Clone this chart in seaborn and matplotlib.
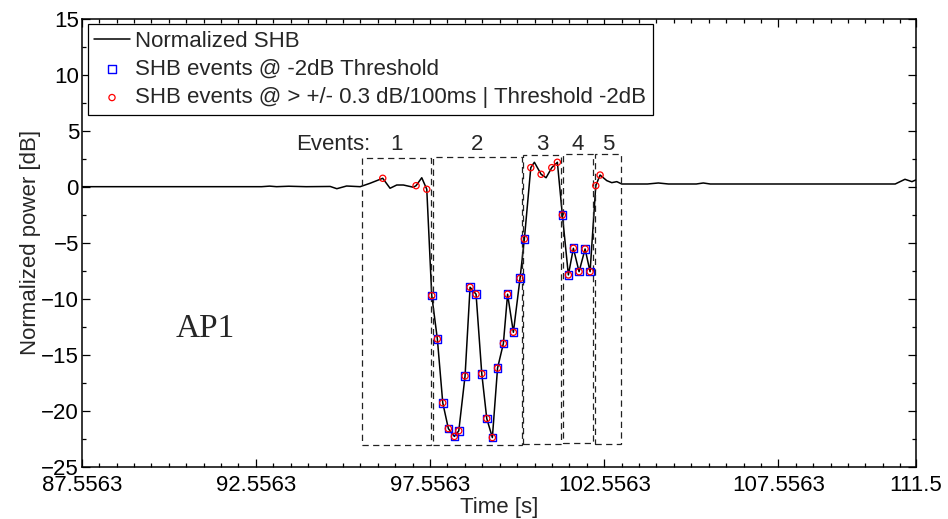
import numpy as np
import pandas as pd
import matplotlib
matplotlib.use("Agg")
import matplotlib.pyplot as plt
from matplotlib.patches import Rectangle
from matplotlib.ticker import FixedLocator, MultipleLocator
import seaborn as sns

# ---------------- data ----------------
time_s = [87.5563, 92.72, 92.95, 93.15, 93.5, 94.0, 94.69, 94.88, 95.16, 95.55,
          95.83, 96.198, 96.408, 96.600, 96.790, 97.077, 97.155, 97.318, 97.462,
          97.605, 97.766, 97.921, 98.082, 98.254, 98.381, 98.561, 98.705, 98.877,
          99.041, 99.184, 99.345, 99.494, 99.661, 99.782, 99.948, 100.140, 100.264,
          100.448, 100.551, 100.744, 100.887, 101.051, 101.211, 101.355, 101.527,
          101.671, 101.834, 102.007, 102.150, 102.314, 102.437, 102.630, 102.773,
          102.917, 103.060, 103.8, 104.11, 104.4, 105.2, 105.40, 105.6, 110.91,
          111.19, 111.39, 111.5]
power_db = [0.0, 0.0, 0.05, 0.0, 0.04, 0.0, 0.02, -0.18, 0.06, 0.0,
            0.3, 0.75, -0.14, 0.15, 0.15, -0.05, 0.09, 0.8, -0.23,
            -9.73, -13.6, -19.3, -21.6, -22.3, -21.8, -16.9, -8.98, -9.6,
            -16.7, -20.7, -22.4, -16.2, -14.0, -9.6, -13.0, -8.18, -4.67,
            1.70, 2.18, 1.11, 0.80, 1.70, 2.18, -2.53, -7.88,
            -5.5, -7.59, -5.56, -7.59, 0.09, 1.04, 0.54, 0.36,
            0.45, 0.24, 0.24, 0.33, 0.24, 0.24, 0.33, 0.24, 0.24,
            0.66, 0.45, 0.6]

# indices of samples flagged by each detector
threshold_idx = list(range(19, 37)) + list(range(43, 49))
rate_idx = [11, 16, 18] + list(range(19, 38)) + [39, 41, 42] + list(range(43, 51))

# event windows (dashed boxes)
event_labels = ["1", "2", "3", "4", "5"]
event_start = [95.612, 97.634, 100.235, 101.384, 102.302]
event_end = [97.585, 100.190, 101.309, 102.227, 103.032]
event_bottom = [-23.05, -23.05, -23.0, -22.9, -22.95]
event_top = [2.6, 2.68, 2.83, 2.89, 2.89]

xtick_vals = [87.5563, 92.5563, 97.5563, 102.5563, 107.5563, 111.5]
xtick_labels = ["87.5563", "92.5563", "97.5563", "102.5563", "107.5563", "111.5"]
ytick_vals = [15, 10, 5, 0, -5, -10, -15, -20, -25]

# ---------------- frames ----------------
df = pd.DataFrame({"t": time_s, "p": power_db})
df_thr = df.iloc[threshold_idx]
df_rate = df.iloc[rate_idx]

sns.set_style("ticks")
plt.rcParams["font.family"] = ["Liberation Sans", "DejaVu Sans"]
plt.rcParams["font.size"] = 16

fig = plt.figure(figsize=(9.48, 5.19), dpi=100)
ax = fig.add_axes([0.0862, 0.1008, 0.966 - 0.0862, 0.964 - 0.1008])

sns.lineplot(data=df, x="t", y="p", ax=ax, color="black", linewidth=1.1,
             estimator=None, sort=False, label="Normalized SHB")
sns.scatterplot(data=df_thr, x="t", y="p", ax=ax, marker="s", s=30,
                facecolor="none", edgecolor="#0000ff", linewidth=1.0,
                label="SHB events @ -2dB Threshold", zorder=3)
sns.scatterplot(data=df_rate, x="t", y="p", ax=ax, marker="o", s=20,
                facecolor="none", edgecolor="#ff0000", linewidth=0.9,
                label="SHB events @ > +/- 0.3 dB/100ms | Threshold -2dB", zorder=4)

# event boxes and labels
for lab, s, e, b, t in zip(event_labels, event_start, event_end, event_bottom, event_top):
    ax.add_patch(Rectangle((s, b), e - s, t - b, fill=False, edgecolor="#222222",
                           linestyle=(0, (5, 3.5)), linewidth=0.9, zorder=2))
    ax.text((s + e) / 2, 3.75, lab, ha="center", va="center", fontsize=16)
ax.text(event_start[0] + 0.22, 3.75, "Events:", ha="right", va="center", fontsize=16)

ax.text(90.264, -13.39, "AP1", family=["Liberation Serif", "DejaVu Serif"],
        fontsize=24, ha="left", va="baseline")

# axes
ax.set_xlim(87.5563, 111.5)
ax.set_ylim(-25, 15)
ax.xaxis.set_major_locator(FixedLocator(xtick_vals))
ax.set_xticklabels(xtick_labels)
ax.xaxis.set_minor_locator(FixedLocator(np.arange(87.5563, 111.5, 0.5)))
ax.yaxis.set_major_locator(FixedLocator(ytick_vals))
ax.yaxis.set_minor_locator(MultipleLocator(2.5))
ax.tick_params(which="both", direction="in", top=True, right=True, width=0.9,
               colors="black", labelsize=16)
ax.tick_params(which="major", length=5.5)
ax.tick_params(which="minor", length=2.8)
ax.tick_params(axis="x", pad=6)
ax.tick_params(axis="y", pad=2)
for sp in ax.spines.values():
    sp.set_visible(True)
    sp.set_linewidth(1.1)
    sp.set_color("black")

ax.set_xlabel("Time [s]", fontsize=16, labelpad=1)
ax.set_ylabel("Normalized power [dB]", fontsize=16, labelpad=0)

leg = ax.legend(loc="upper left", bbox_to_anchor=(0.007, 0.988), borderaxespad=0,
                fancybox=False, framealpha=1, edgecolor="black", fontsize=16,
                handlelength=1.6, handletextpad=0.25, labelspacing=0.33,
                borderpad=0.3)
leg.get_frame().set_linewidth(0.9)

fig.savefig("out.png", dpi=100)
